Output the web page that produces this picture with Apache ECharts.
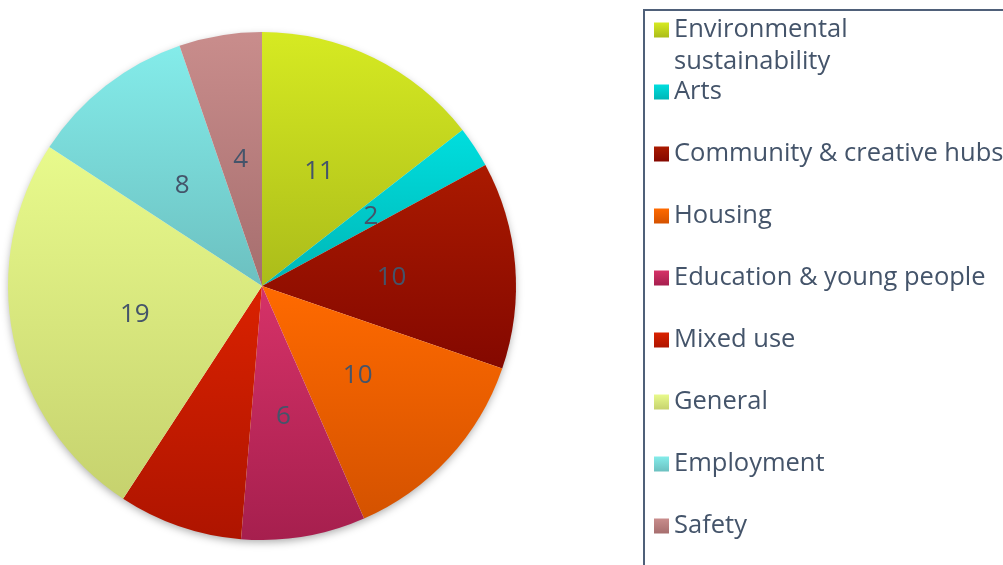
<!DOCTYPE html>
<html>
<head>
<meta charset="utf-8">
<script src="https://cdn.jsdelivr.net/npm/echarts@6/dist/echarts.min.js"></script>
<style>
html, body { margin: 0; padding: 0; background: #fff; }
#chart { width: 1003px; height: 565px; }
</style>
</head>
<body>
<div id="chart"></div>
<script>
var categories = ['Environmental sustainability', 'Arts', 'Community & creative hubs', 'Housing',
    'Education & young people', 'Mixed use', 'General', 'Employment', 'Safety'];
var values = [11, 2, 10, 10, 6, 6, 19, 8, 4];
// legend wraps this one name onto two lines
var legendLines = {'Environmental sustainability': ['Environmental', 'sustainability']};
// gradient top / bottom for each slice
var topColors = ['#d6ea22', '#00dede', '#aa1a00', '#ff6a00', '#d63268', '#da2200', '#e8fa8c', '#84ecea', '#c98d8c'];
var bottomColors = ['#abbc1a', '#00b6b6', '#840800', '#d45200', '#a61f4e', '#ae1400', '#c6d26e', '#6cc0c0', '#a66e6e'];
var hideLabel = ['Mixed use'];

var myChart = echarts.init(document.getElementById('chart'));

var textColor = '#44546a';
var LINE = 31.5;
var STEP = 62;

var pieData = categories.map(function (name, i) {
    return {
        name: name,
        value: values[i],
        label: { show: hideLabel.indexOf(name) < 0 },
        itemStyle: {
            color: new echarts.graphic.LinearGradient(0, 0, 0, 1, [
                {offset: 0, color: topColors[i]},
                {offset: 1, color: bottomColors[i]}
            ])
        }
    };
});

option = {
    animation: false,
    backgroundColor: '#fff',
    graphic: [{
        type: 'rect',
        shape: {x: 644, y: 10, width: 420, height: 600},
        style: {fill: 'none', stroke: '#4f6079', lineWidth: 2},
        silent: true
    }],
    legend: {
        orient: 'vertical',
        left: 654,
        top: 30 - 1.5 * LINE,
        height: 700,
        padding: 0,
        itemGap: STEP - 3 * LINE,
        itemWidth: 15,
        itemHeight: 15,
        icon: 'rect',
        data: categories,
        // three lines per item so that the first line of text sits on the marker
        formatter: function (name) {
            var lines = legendLines[name] || [name, ' '];
            return ' \n' + lines.join('\n');
        },
        textStyle: {
            color: textColor,
            fontFamily: 'Open Sans',
            fontSize: 25.5,
            lineHeight: LINE
        }
    },
    series: [
        {
            // soft shadow under the pie
            type: 'pie',
            silent: true,
            center: [262, 286],
            radius: 253,
            label: {show: false},
            z: 1,
            itemStyle: {
                color: '#fff',
                shadowBlur: 8,
                shadowOffsetY: 3,
                shadowColor: 'rgba(0,0,0,0.35)'
            },
            data: [{name: '', value: 1}],
            legendHoverLink: false
        },
        {
            name: 'Projects',
            type: 'pie',
            center: [262, 286],
            radius: 254,
            startAngle: 90,
            clockwise: true,
            avoidLabelOverlap: false,
            z: 2,
            label: {
                show: true,
                position: 'inside',
                formatter: '{c}',
                color: textColor,
                fontFamily: 'Open Sans',
                fontSize: 26,
                offset: [0, 2]
            },
            labelLine: {show: false},
            data: pieData
        }
    ]
};

myChart.setOption(option);
</script>
</body>
</html>
